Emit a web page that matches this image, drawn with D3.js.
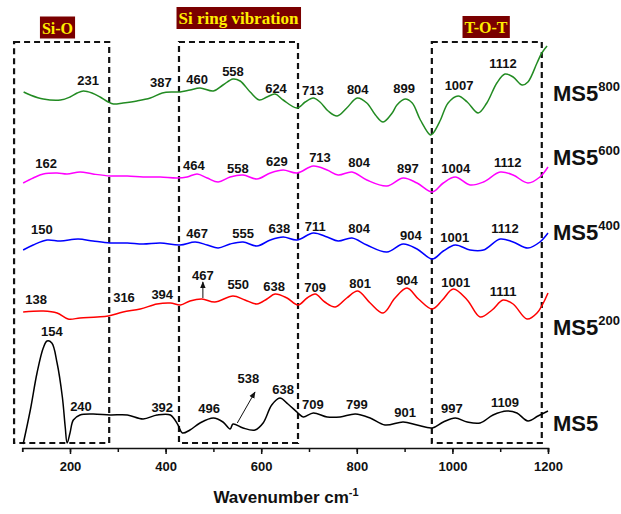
<!DOCTYPE html>
<meta charset="utf-8">
<style>
  body { margin: 0; background: #fff; font-family: 'Liberation Sans', Arial, sans-serif; }
  .peak { font-size: 13px; font-weight: bold; fill: #111; }
  .axis text { font-size: 13px; font-weight: bold; fill: #111; }
  .axis path, .axis line { stroke: #111; stroke-width: 1.5; }
</style>
<body>
<div id="chart"></div>
<script src="https://d3js.org/d3.v7.min.js"></script>
<script>
// spectra: [wavenumber, intensity (a.u., offset)]
var ms5 = [[102,4],[117,38],[131,75],[144,100],[152,107],[162,105],[173,85],[184,51],[190,21],[194,5],[200,15],[207,28],[221,33],[248,34],[284,33],[320,33],[353,29],[382,33],[410,33],[426,23],[435,15],[451,18],[472,25],[500,30],[520,26],[535,19],[541,24],[562,20],[587,18],[604,25],[622,43],[639,50],[656,44],[677,35],[688,31],[709,35],[738,31],[765,31],[797,34],[828,30],[859,23],[897,26],[926,23],[958,20],[981,26],[1006,30],[1031,26],[1058,25],[1085,33],[1114,37],[1135,35],[1158,27],[1179,32],[1200,37]];
var ms5_200 = [[102,136],[144,137],[173,135],[196,129],[221,130],[257,131],[280,132],[311,136],[347,139],[382,144],[410,145],[431,143],[451,147],[476,149],[503,146],[541,152],[566,148],[591,144],[612,149],[629,154],[654,150],[677,143],[696,150],[713,154],[733,146],[755,141],[779,150],[802,157],[828,145],[855,135],[880,150],[905,160],[929,149],[958,139],[979,148],[1002,159],[1031,148],[1058,131],[1083,138],[1106,148],[1127,144],[1156,129],[1177,135],[1200,155]];
var ms5_400 = [[102,198],[123,203],[152,208],[180,207],[217,209],[248,207],[284,205],[320,205],[353,204],[389,205],[430,203],[462,206],[487,203],[510,200],[535,204],[562,206],[591,202],[619,208],[646,211],[675,208],[709,215],[738,211],[761,207],[790,210],[821,203],[863,196],[897,204],[926,199],[958,189],[981,197],[1006,203],[1037,198],[1065,198],[1100,209],[1127,206],[1158,200],[1183,206],[1200,215]];
var ms5_600 = [[102,265],[123,270],[144,274],[173,275],[194,274],[221,276],[248,274],[284,272],[320,272],[353,271],[389,271],[424,270],[445,271],[466,274],[487,270],[510,266],[535,271],[562,273],[591,269],[619,275],[646,278],[675,275],[709,282],[738,278],[761,273],[790,276],[821,268],[863,262],[897,270],[926,265],[958,256],[981,265],[1006,271],[1037,263],[1065,266],[1100,276],[1127,273],[1158,265],[1183,271],[1200,281]];
var ms5_800 = [[103,356],[117,353],[144,349],[180,348],[200,351],[215,355],[228,357],[246,355],[263,351],[280,346],[291,344],[311,345],[340,347],[368,350],[393,355],[416,356],[430,356],[451,358],[472,360],[500,357],[520,363],[541,369],[556,367],[577,356],[596,348],[612,351],[629,354],[646,348],[675,340],[692,346],[709,350],[723,346],[740,337],[759,332],[779,340],[801,350],[821,345],[839,333],[855,326],[874,335],[884,343],[901,349],[916,345],[933,328],[954,313],[960,315],[975,328],[991,345],[1012,352],[1031,346],[1054,335],[1072,345],[1093,365],[1110,374],[1127,371],[1146,363],[1158,366],[1177,385],[1187,395],[1198,402]];

// peak labels: [text, wavenumber, intensity]
var peaks_ms5 = [["154",162,117],["240",223,42],["392",393,41],["496",491,40],["538",573,70],["638",646,59],["709",708,44],["799",800,44],["901",901,36],["997",999,40],["1109",1110,46]];
var peaks_200 = [["138",129,149],["316",313,151],["394",393,154],["467",478,173],["550",552,164],["638",627,162],["709",713,161],["801",807,165],["904",905,168],["1001",1007,166],["1111",1106,157]];
var peaks_400 = [["150",141,219],["467",466,215],["555",562,215],["638",638,220],["711",713,222],["804",805,220],["904",913,213],["1001",1005,211],["1112",1110,220]];
var peaks_600 = [["162",150,285],["464",459,283],["558",551,280],["629",633,287],["713",723,291],["804",805,286],["897",907,280],["1004",1007,280],["1112",1116,286]];
var peaks_800 = [["231",238,368],["387",390,366],["460",466,369],["558",541,377],["624",631,360],["713",708,358],["804",802,359],["899",899,360],["1007",1014,363],["1112",1106,385]];

// arrows: [x1, y1, x2, y2]
var arrows = [[478,150,478,166],[550,25,587,56]];

// band regions: [label, x0, x1]
var bands = [["Si-O",83,282],["Si ring vibration",428,677],["T-O-T",957,1187]];

var seriesNames = ["MS5","MS5","MS5","MS5","MS5"];
var seriesSup = ["", "200", "400", "600", "800"];
var seriesColors = ["#000000","#ff0000","#0000ff","#ff00ff","#228b22"];
var seriesLabelY = [17, 113, 208, 283, 347];
var xTicks = [200, 400, 600, 800, 1000, 1200];

var W = 621, H = 514;
var svg = d3.select("#chart").append("svg").attr("width", W).attr("height", H);

var x = d3.scaleLinear().domain([100, 1200]).range([22.2, 548]);
var y = d3.scaleLinear().domain([0, 410]).range([448, 38]);

// dashed band boxes
var bandTop = 406, bandBottom = 5;
bands.forEach(function(b) {
  svg.append("rect")
    .attr("x", x(b[1])).attr("y", y(bandTop))
    .attr("width", x(b[2]) - x(b[1]))
    .attr("height", y(bandBottom) - y(bandTop))
    .attr("fill", "none").attr("stroke", "#111")
    .attr("stroke-width", 2.2).attr("stroke-dasharray", "6,4");
});

// band title boxes
var titleBoxes = [{cx: 57.5, cy: 27.5, fs: 16}, {cx: 238.5, cy: 18, fs: 17}, {cx: 486, cy: 27, fs: 16}];
bands.forEach(function(b, i) {
  var g = svg.append("g");
  var t = g.append("text").text(b[0])
    .attr("x", titleBoxes[i].cx).attr("y", titleBoxes[i].cy + 6)
    .attr("text-anchor", "middle")
    .style("font-family", "'Liberation Serif', 'Times New Roman', serif")
    .style("font-weight", "bold").style("font-size", titleBoxes[i].fs + "px")
    .style("fill", "#ffee00");
  var bb = t.node().getBBox();
  g.insert("rect", "text")
    .attr("x", bb.x - 2).attr("y", titleBoxes[i].cy - 11)
    .attr("width", bb.width + 4).attr("height", 22)
    .attr("fill", "#7a0000");
});

// spectra
var line = d3.line()
  .x(function(d) { return x(d[0]); })
  .y(function(d) { return y(d[1]); })
  .curve(d3.curveCatmullRom.alpha(0.5));

[ms5, ms5_200, ms5_400, ms5_600, ms5_800].forEach(function(s, i) {
  svg.append("path").datum(s)
    .attr("d", line)
    .attr("fill", "none")
    .attr("stroke", seriesColors[i])
    .attr("stroke-width", 1.5);
});

// peak labels
[peaks_ms5, peaks_200, peaks_400, peaks_600, peaks_800].forEach(function(p) {
  svg.selectAll(null).data(p).enter().append("text")
    .attr("class", "peak")
    .attr("x", function(d) { return x(d[1]); })
    .attr("y", function(d) { return y(d[2]) + 4.5; })
    .attr("text-anchor", "middle")
    .text(function(d) { return d[0]; });
});

// arrows
svg.append("defs").append("marker")
  .attr("id", "ah").attr("viewBox", "0 0 10 10")
  .attr("refX", 9).attr("refY", 5)
  .attr("markerWidth", 7).attr("markerHeight", 7)
  .attr("orient", "auto")
  .append("path").attr("d", "M0,1 L10,5 L0,9 Z").attr("fill", "#111");
arrows.forEach(function(a) {
  svg.append("line")
    .attr("x1", x(a[0])).attr("y1", y(a[1]))
    .attr("x2", x(a[2])).attr("y2", y(a[3]))
    .attr("stroke", "#111").attr("stroke-width", 1)
    .attr("marker-end", "url(#ah)");
});

// series labels
seriesNames.forEach(function(n, i) {
  var t = svg.append("text")
    .attr("x", x(1200) + 5).attr("y", y(seriesLabelY[i]))
    .style("font-size", "22px").style("font-weight", "bold").style("fill", "#111");
  t.append("tspan").text(n);
  if (seriesSup[i]) {
    t.append("tspan").text(seriesSup[i])
      .attr("dy", -10).style("font-size", "13px");
  }
});

// x axis
svg.append("g").attr("class", "axis")
  .attr("transform", "translate(0," + y(0) + ")")
  .call(d3.axisBottom(x).tickValues(d3.range(100, 1201, 100)).tickSize(4).tickFormat(""));
svg.append("g").attr("class", "axis")
  .attr("transform", "translate(0," + y(0) + ")")
  .call(d3.axisBottom(x).tickValues(xTicks).tickSize(6).tickPadding(8).tickSizeOuter(0).tickFormat(d3.format("d")))
  .select(".domain").remove();

var xt = svg.append("text")
  .attr("x", 286).attr("y", 503)
  .attr("text-anchor", "middle")
  .style("font-size", "17px").style("font-weight", "bold").style("fill", "#111");
xt.append("tspan").text("Wavenumber cm");
xt.append("tspan").text("-1").attr("dy", -7).style("font-size", "11px");
</script>
</body>
